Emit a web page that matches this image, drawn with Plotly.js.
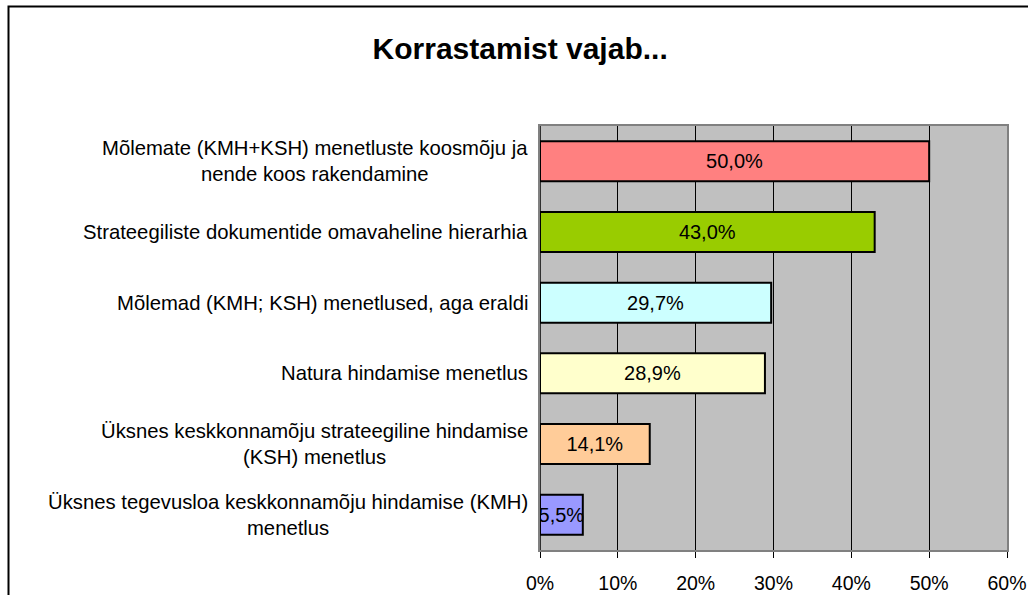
<!DOCTYPE html>
<html>
<head>
<meta charset="utf-8">
<script src="https://cdn.plot.ly/plotly-3.0.1.min.js"></script>
<style>
html, body { margin: 0; padding: 0; background: #ffffff; }
#chart { width: 1028px; height: 595px; }
</style>
</head>
<body>
<div id="chart"></div>
<script>
const categories = [
  "Mõlemate (KMH+KSH) menetluste koosmõju ja<br>nende koos rakendamine",
  "Strateegiliste dokumentide omavaheline hierarhia",
  "Mõlemad (KMH; KSH) menetlused, aga eraldi",
  "Natura hindamise menetlus",
  "Üksnes keskkonnamõju strateegiline hindamise<br>(KSH) menetlus",
  "Üksnes tegevusloa keskkonnamõju hindamise (KMH)<br>menetlus"
];
const values = [50.0, 43.0, 29.7, 28.9, 14.1, 5.5];
const barColors = ["#FF8080", "#99CC00", "#CCFFFF", "#FFFFCC", "#FFCC99", "#9999FF"];
const tickVals = [0, 10, 20, 30, 40, 50, 60];
const titleText = "Korrastamist vajab...";

const FONT = "Liberation Sans, Arial, Helvetica, sans-serif";

const trace = {
  type: "bar",
  orientation: "h",
  x: values,
  y: categories,
  marker: { color: barColors, line: { color: "#000000", width: 2 } },
  text: values.map(v => v.toFixed(1).replace(".", ",") + "%"),
  textposition: "inside",
  insidetextanchor: "middle",
  textangle: 0,
  constraintext: "none",
  cliponaxis: false,
  textfont: { family: FONT, size: 20, color: "#000000" },
  hoverinfo: "none"
};

const annotations = categories.map(c => ({
  xref: "paper", yref: "y",
  x: 0, y: c,
  xanchor: "right", yanchor: "middle",
  xshift: -10,
  align: "center",
  text: c,
  showarrow: false,
  font: { family: FONT, size: 20.3, color: "#000000" }
}));

const layout = {
  width: 1028, height: 595,
  margin: { l: 540, r: 21, t: 126, b: 45, pad: 0 },
  paper_bgcolor: "#ffffff",
  plot_bgcolor: "#C0C0C0",
  separators: ",.",
  showlegend: false,
  bargap: 0.435,
  title: {
    text: "<b>" + titleText + "</b>",
    font: { family: FONT, size: 30, color: "#000000" },
    x: 0.506, xanchor: "center",
    y: 1 - 48 / 595, yanchor: "middle", yref: "container"
  },
  xaxis: {
    range: [0, 60],
    tickvals: tickVals,
    ticktext: tickVals.map(v => v + "%"),
    ticks: "outside", ticklen: 6, tickcolor: "#000000", tickwidth: 1,
    ticklabelstandoff: 9,
    showgrid: true, gridcolor: "#000000", gridwidth: 1,
    zeroline: false,
    showline: true, linecolor: "#808080", linewidth: 2, mirror: true,
    tickfont: { family: FONT, size: 19.5, color: "#000000" },
    fixedrange: true
  },
  yaxis: {
    type: "category",
    categoryorder: "array",
    categoryarray: categories,
    autorange: "reversed",
    showticklabels: false,
    ticks: "",
    showgrid: false,
    zeroline: false,
    showline: true, linecolor: "#808080", linewidth: 2, mirror: true,
    fixedrange: true
  },
  shapes: [
    { type: "line", xref: "x", yref: "paper", x0: 0, x1: 0, y0: 0, y1: 1,
      line: { color: "#000000", width: 1.5 } },
    { type: "rect", xref: "paper", yref: "paper",
      x0: (8.5 - 540) / 467, x1: 1.2, y0: -0.3, y1: (550 - 6.5) / 424,
      line: { color: "#000000", width: 2 }, layer: "below" }
  ],
  annotations: annotations
};

Plotly.newPlot("chart", [trace], layout, { displayModeBar: false, staticPlot: true });
</script>
</body>
</html>
